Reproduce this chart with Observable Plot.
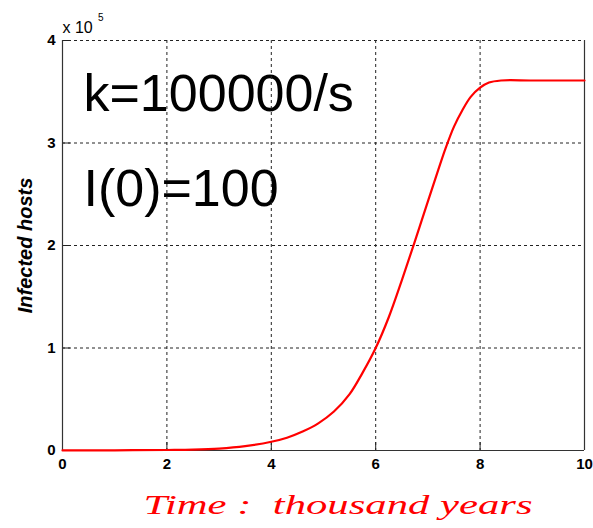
<!DOCTYPE html>
<html>
<head>
<meta charset="utf-8">
<script src="https://cdn.jsdelivr.net/npm/d3@7"></script>
<script src="https://cdn.jsdelivr.net/npm/@observablehq/plot@0.6"></script>
<style>
  body { margin: 0; background: #fff; }
  #chart svg { display: block; }
</style>
</head>
<body>
<div id="chart"></div>
<script>
// Time in thousand years
const timeKyr = [0, 1, 2, 2.5, 3, 3.5, 4, 4.3, 4.6, 4.9, 5.2, 5.5, 5.75, 6, 6.25, 6.5, 6.75, 7, 7.2, 7.34, 7.5, 7.66, 7.82, 8, 8.17, 8.4, 9, 10];
// Infected hosts (raw counts)
const infectedHosts = [100, 200, 500, 800, 1800, 4200, 8500, 12500, 18500, 26500, 38000, 55000, 76000, 100000, 130000, 166000, 204000, 243000, 274000, 295000, 316000, 332000, 345000, 354000, 359000, 361000, 361000, 361000];

const xTicks = [0, 2, 4, 6, 8, 10];
const yTicks = [0, 1, 2, 3, 4];
const xGrid = [2, 4, 6, 8];
const yGrid = [1, 2, 3, 4];
const yScaleFactor = 1e5;
const annotations = ["k=100000/s", "I(0)=100"];
const yLabel = "Infected hosts";
const xLabel = "Time :  thousand years";
const exponentBase = "x 10";
const exponent = "5";

const data = timeKyr.map((t, i) => ({t, v: infectedHosts[i] / yScaleFactor}));

const chart = Plot.plot({
  width: 593,
  height: 528,
  marginLeft: 62,
  marginRight: 9,
  marginTop: 40,
  marginBottom: 78,
  style: {fontFamily: "'Liberation Sans', Arial, sans-serif", background: "#fff", overflow: "visible"},
  x: {domain: [0, 10]},
  y: {domain: [0, 4]},
  marks: [
    // annotations (under the grid)
    Plot.text([annotations[0]], {text: d => d, frameAnchor: "top-left", dx: 21, dy: 70, textAnchor: "start", lineAnchor: "bottom", fontSize: 52, fill: "#000"}),
    Plot.text([annotations[1]], {text: d => d, frameAnchor: "top-left", dx: 21, dy: 165, textAnchor: "start", lineAnchor: "bottom", fontSize: 52, fill: "#000"}),
    // grid
    Plot.ruleX(xGrid, {x: d => d, stroke: "#222", strokeWidth: 1, strokeDasharray: "3,3"}),
    Plot.ruleY(yGrid, {y: d => d, stroke: "#222", strokeWidth: 1, strokeDasharray: "3,3"}),
    // inward ticks
    Plot.tickX(xTicks, {x: d => d, insetTop: 402, stroke: "#222"}),
    Plot.tickY(yTicks, {y: d => d, insetRight: 514, stroke: "#222"}),
    // frame (left, right, bottom solid)
    Plot.ruleX([0, 10], {x: d => d, stroke: "#333", strokeWidth: 1.2}),
    Plot.ruleY([0], {y: d => d, stroke: "#333", strokeWidth: 1.2}),
    // axes
    Plot.axisX(xTicks, {tickSize: 0, tickPadding: 8, fontSize: 15, fontWeight: "bold", fill: "#000", label: null, tickFormat: d3.format("d")}),
    Plot.axisY(yTicks, {tickSize: 0, tickPadding: 7, fontSize: 15, fontWeight: "bold", fill: "#000", label: null, tickFormat: d3.format("d")}),
    // exponent
    Plot.text([exponentBase], {text: d => d, frameAnchor: "top-left", dx: 0, dy: -8, textAnchor: "start", lineAnchor: "bottom", fontSize: 16, fill: "#000"}),
    Plot.text([exponent], {text: d => d, frameAnchor: "top-left", dx: 35.5, dy: -20, textAnchor: "start", lineAnchor: "bottom", fontSize: 10, fill: "#000"}),
    // y label
    Plot.text([yLabel], {text: d => d, frameAnchor: "left", dx: -37, rotate: -90, textAnchor: "middle", lineAnchor: "middle", fontSize: 20, fontWeight: "bold", fontStyle: "italic", fill: "#000"}),
    // x label
    Plot.text([xLabel], {text: d => d, frameAnchor: "bottom", dx: 14.5, dy: 63, textAnchor: "middle", lineAnchor: "bottom", fontSize: 28, fontStyle: "italic", fontFamily: "'Liberation Serif', 'Times New Roman', serif", fill: "#ff0000"}),
    // curve
    Plot.line(data, {x: "t", y: "v", stroke: "#ff0000", strokeWidth: 2.2, curve: "catmull-rom"})
  ]
});

d3.select(chart).selectAll("text")
  .filter(function() { return this.textContent === xLabel; })
  .attr("textLength", 389)
  .attr("lengthAdjust", "spacingAndGlyphs")
  .style("white-space", "pre");

document.getElementById("chart").appendChild(chart);
</script>
</body>
</html>
